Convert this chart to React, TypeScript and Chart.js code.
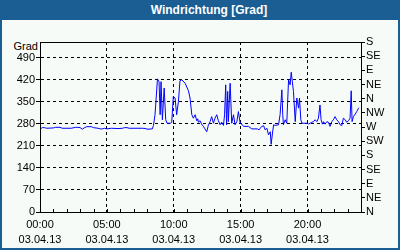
import React, { useEffect, useRef } from 'react';
import { Chart, registerables } from 'chart.js';

Chart.register(...registerables);

const chartTitle = 'Windrichtung [Grad]';
const unitLabel = 'Grad';
const dateLabel = '03.04.13';

// time of day in minutes since midnight
const minutes = [
  0, 10, 20, 30, 60, 70, 90, 100, 140, 160, 170, 180, 190, 200, 210, 230, 240, 260, 270, 280,
  290, 300, 320, 350, 370, 380, 390, 400, 460, 475, 480, 504, 509, 516, 527, 534, 539, 543, 549, 557,
  564, 570, 585, 591, 598, 606, 613, 621, 628, 636, 651, 666, 673, 681, 688, 696, 703, 708, 710, 718,
  725, 733, 740, 748, 755, 763, 770, 778, 785, 793, 800, 808, 815, 823, 828, 833, 837, 842, 845, 853,
  860, 868, 875, 883, 890, 898, 905, 913, 935, 950, 975, 983, 988, 995, 1003, 1010, 1018, 1025, 1033, 1037,
  1043, 1048, 1055, 1070, 1077, 1085, 1089, 1092, 1100, 1107, 1115, 1122, 1127, 1132, 1137, 1145, 1152, 1160, 1164, 1170,
  1175, 1200, 1204, 1219, 1227, 1234, 1242, 1249, 1256, 1261, 1267, 1272, 1279, 1287, 1294, 1301, 1309, 1316, 1324, 1331,
  1339, 1346, 1354, 1361, 1369, 1376, 1384, 1391, 1396, 1400, 1406, 1414, 1421, 1429, 1432,
];

// wind direction in degrees
const degrees = [
  263, 268, 268, 266, 267, 269, 269, 266, 266, 269, 269, 268, 263, 268, 271, 271, 268, 266, 264, 264,
  266, 264, 266, 265, 266, 268, 268, 266, 266, 265, 263, 264, 275, 309, 423, 414, 309, 414, 293, 394,
  293, 282, 282, 285, 367, 362, 309, 351, 417, 420, 409, 385, 362, 309, 298, 309, 290, 296, 285, 290,
  279, 272, 264, 255, 275, 287, 303, 282, 298, 309, 290, 277, 285, 275, 309, 404, 277, 383, 287, 409,
  282, 309, 277, 287, 319, 282, 279, 272, 272, 264, 264, 261, 266, 272, 274, 261, 266, 245, 255, 215,
  251, 277, 275, 277, 309, 388, 309, 277, 293, 282, 420, 404, 444, 414, 383, 287, 362, 330, 362, 293,
  282, 282, 279, 285, 287, 293, 287, 298, 340, 293, 279, 287, 279, 287, 285, 272, 287, 293, 303, 293,
  287, 277, 275, 298, 293, 285, 290, 298, 385, 287, 303, 311, 319, 330, 332,
];

const timeTicks = [0, 300, 600, 900, 1200];
const degreeTicks = [0, 70, 140, 210, 280, 350, 420, 490];
const compassTicks = [0, 45, 90, 135, 180, 225, 270, 315, 360, 405, 450, 495, 540];
const compassLabels = ['N', 'NE', 'E', 'SE', 'S', 'SW', 'W', 'NW', 'N', 'NE', 'E', 'SE', 'S'];

const FONT = 'Liberation Sans, Arial, sans-serif';

const fmtTime = (m: number) => {
  const h = Math.floor(m / 60);
  const mm = m % 60;
  return `${String(h).padStart(2, '0')}:${String(mm).padStart(2, '0')}`;
};

const framePlugin = {
  id: 'frame',
  afterDraw(chart: any) {
    const { ctx, chartArea, scales } = chart;
    ctx.save();
    ctx.strokeStyle = '#000';
    ctx.lineWidth = 1;
    ctx.setLineDash([]);
    ctx.strokeRect(
      Math.round(chartArea.left) + 0.5,
      Math.round(chartArea.top) + 0.5,
      Math.round(chartArea.right - chartArea.left),
      Math.round(chartArea.bottom - chartArea.top)
    );
    // hourly minor ticks along the time axis
    const xs = scales.x;
    ctx.beginPath();
    for (let h = 1; h < 24; h++) {
      const px = Math.round(xs.getPixelForValue(h * 60)) + 0.5;
      ctx.moveTo(px, chartArea.bottom);
      ctx.lineTo(px, chartArea.bottom - 3);
    }
    ctx.stroke();
    ctx.restore();
  },
};

export default function App() {
  const ref = useRef<HTMLCanvasElement | null>(null);

  useEffect(() => {
    document.body.style.margin = '0';
    const canvas = ref.current;
    if (!canvas) return;
    const font = { family: FONT, size: 11 };
    const chart = new Chart(canvas, {
      type: 'line',
      data: {
        datasets: [
          {
            data: minutes.map((m, i) => ({ x: m, y: degrees[i] })),
            borderColor: '#0000ff',
            borderWidth: 1,
            pointRadius: 0,
            tension: 0,
            fill: false,
            xAxisID: 'x',
            yAxisID: 'y',
          },
        ],
      },
      options: {
        animation: false,
        responsive: false,
        devicePixelRatio: 1,
        layout: { padding: { top: 42, left: 0, right: 0, bottom: 0 } },
        plugins: {
          legend: { display: false },
          tooltip: { enabled: false },
          title: { display: false },
        },
        scales: {
          x: {
            type: 'linear',
            min: 0,
            max: 1440,
            afterBuildTicks: (s: any) => {
              s.ticks = timeTicks.map((v) => ({ value: v }));
            },
            afterFit: (s: any) => {
              s.height = 38;
            },
            ticks: {
              callback: (v: any) => [fmtTime(Number(v)), dateLabel],
              color: '#000',
              font: { ...font, lineHeight: 1.4 },
              padding: 5,
              maxRotation: 0,
              autoSkip: false,
            },
            grid: { color: '#000', lineWidth: 1, drawTicks: false },
            border: { color: '#000', dash: [3, 3] },
          },
          y: {
            position: 'left',
            min: 0,
            max: 540,
            afterBuildTicks: (s: any) => {
              s.ticks = degreeTicks.map((v) => ({ value: v }));
            },
            afterFit: (s: any) => {
              s.width = 40;
            },
            ticks: { color: '#000', font, padding: 1, autoSkip: false },
            grid: { color: '#000', lineWidth: 1, tickLength: 4 },
            border: { color: '#000', dash: [3, 3] },
          },
          y2: {
            position: 'right',
            min: 0,
            max: 540,
            afterBuildTicks: (s: any) => {
              s.ticks = compassTicks.map((v) => ({ value: v }));
            },
            afterFit: (s: any) => {
              s.width = 39;
            },
            ticks: {
              color: '#000',
              font,
              padding: 1,
              autoSkip: false,
              callback: (v: any) => compassLabels[compassTicks.indexOf(Number(v))],
            },
            grid: { color: '#000', lineWidth: 1, tickLength: 4, drawOnChartArea: false },
            border: { color: '#000' },
          },
        },
      },
      plugins: [framePlugin],
    } as any);
    return () => chart.destroy();
  }, []);

  return (
    <div
      style={{
        position: 'relative',
        width: 400,
        height: 250,
        boxSizing: 'border-box',
        border: '2px solid #1b5e94',
        borderTop: 'none',
        background: '#f7fbf7',
        overflow: 'hidden',
      }}
    >
      <div
        style={{
          position: 'absolute',
          left: -2,
          top: 0,
          width: 400,
          height: 20,
          background: '#1b5e94',
          color: '#fff',
          fontFamily: FONT,
          fontWeight: 'bold',
          fontSize: 12,
          lineHeight: '20px',
          textAlign: 'center',
          paddingLeft: 18,
          boxSizing: 'border-box',
        }}
      >
        {chartTitle}
      </div>
      <div
        style={{
          position: 'absolute',
          left: -2,
          top: 39,
          width: 38,
          textAlign: 'right',
          fontFamily: FONT,
          fontSize: 11,
          lineHeight: '14px',
          color: '#000',
        }}
      >
        {unitLabel}
      </div>
      <canvas
        ref={ref}
        width={400}
        height={250}
        style={{ position: 'absolute', left: -2, top: 0, width: 400, height: 250 }}
      />
    </div>
  );
}
